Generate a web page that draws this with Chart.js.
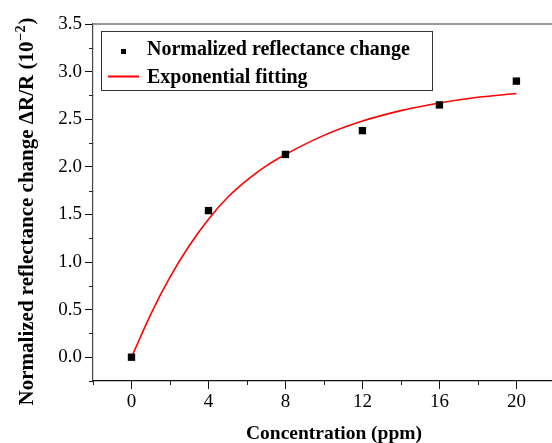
<!DOCTYPE html>
<html>
<head>
<meta charset="utf-8">
<script src="https://cdn.jsdelivr.net/npm/chart.js@4"></script>
<style>
  html, body { margin: 0; padding: 0; background: #fff; }
  canvas { display: block; }
</style>
</head>
<body>
<canvas id="myChart" width="552" height="443"></canvas>
<script>
// measured points
const concentration = [0, 4, 8, 12, 16, 20];
const reflectanceChange = [0.00, 1.54, 2.13, 2.38, 2.65, 2.90];

// fitted curve
const fitX = [0, 1, 2, 3, 4, 5, 6, 7, 8, 10, 12, 14, 16, 18, 20];
const fitY = [0, 0.45, 0.84, 1.17, 1.45, 1.68, 1.86, 2.01, 2.13, 2.33, 2.48, 2.59, 2.67, 2.73, 2.77];

const xTicks = [0, 4, 8, 12, 16, 20];
const yTicks = [0, 0.5, 1, 1.5, 2, 2.5, 3, 3.5];

const seriesLabels = ['Normalized reflectance change', 'Exponential fitting'];
const xTitle = 'Concentration (ppm)';
const yTitleMain = 'Normalized reflectance change \u0394R/R (10';
const yTitleSup = '\u22122';
const yTitleEnd = ')';

const serif = "'Liberation Serif', 'Times New Roman', serif";

// midpoints between major ticks -> minor ticks
function minorValues(scale, majors) {
  const step = (majors[1] - majors[0]) / 2;
  const vals = [];
  for (let v = majors[0] - step; v >= scale.min - 1e-6; v -= 2 * step) vals.push(v);
  for (let v = majors[0] + step; v <= scale.max + 1e-6; v += 2 * step) vals.push(v);
  return vals;
}

/* extras : frame top, minor ticks, titles, legend */
const decor = {
  id: 'decor',
  afterDraw(chart) {
    const { ctx, chartArea: a, scales: { x, y } } = chart;
    ctx.save();

    // top frame line
    ctx.strokeStyle = '#777';
    ctx.lineWidth = 1.5;
    ctx.beginPath();
    ctx.moveTo(a.left, a.top);
    ctx.lineTo(a.right, a.top);
    ctx.stroke();

    // x axis runs a little past the y axis
    ctx.strokeStyle = '#111';
    ctx.lineWidth = 1.2;
    ctx.beginPath();
    ctx.moveTo(a.left - 3, a.bottom + 0.5);
    ctx.lineTo(a.left, a.bottom + 0.5);
    ctx.stroke();

    // minor ticks
    ctx.strokeStyle = '#222';
    ctx.lineWidth = 1;
    ctx.beginPath();
    minorValues(x, xTicks).forEach(v => {
      const px = Math.round(x.getPixelForValue(v)) + 0.5;
      ctx.moveTo(px, a.bottom);
      ctx.lineTo(px, a.bottom + 4);
    });
    minorValues(y, yTicks).forEach(v => {
      const py = Math.round(y.getPixelForValue(v)) + 0.5;
      ctx.moveTo(a.left - 4, py);
      ctx.lineTo(a.left, py);
    });
    ctx.stroke();

    // x title
    ctx.fillStyle = '#000';
    ctx.font = 'bold 19.5px ' + serif;
    ctx.textAlign = 'center';
    ctx.textBaseline = 'alphabetic';
    ctx.fillText(xTitle, 334, 439);

    // y title with superscript
    ctx.save();
    ctx.translate(33, 211.5);
    ctx.rotate(-Math.PI / 2);
    ctx.textAlign = 'left';
    ctx.font = 'bold 21px ' + serif;
    const wMain = ctx.measureText(yTitleMain).width;
    const wEnd = ctx.measureText(yTitleEnd).width;
    ctx.font = 'bold 14px ' + serif;
    const wSup = ctx.measureText(yTitleSup).width;
    let sx = -(wMain + wSup + wEnd + 2) / 2;
    ctx.font = 'bold 21px ' + serif;
    ctx.fillText(yTitleMain, sx, 0);
    sx += wMain + 1;
    ctx.font = 'bold 14px ' + serif;
    ctx.fillText(yTitleSup, sx, -8);
    sx += wSup + 1;
    ctx.font = 'bold 21px ' + serif;
    ctx.fillText(yTitleEnd, sx, 0);
    ctx.restore();

    // legend box
    ctx.strokeStyle = '#333';
    ctx.lineWidth = 1;
    ctx.strokeRect(101.5, 31.5, 331, 59);
    ctx.fillStyle = '#000';
    ctx.fillRect(121, 49, 5, 5);
    ctx.strokeStyle = '#ff0000';
    ctx.lineWidth = 2;
    ctx.beginPath();
    ctx.moveTo(108, 76.5);
    ctx.lineTo(139, 76.5);
    ctx.stroke();
    ctx.fillStyle = '#000';
    ctx.font = 'bold 20px ' + serif;
    ctx.textAlign = 'left';
    ctx.fillText(chart.data.datasets[0].label, 147, 55);
    ctx.fillText(chart.data.datasets[1].label, 147, 83);

    ctx.restore();
  }
};

const myChart = new Chart(document.getElementById('myChart'), {
  type: 'scatter',
  data: {
    datasets: [
      {
        label: seriesLabels[0],
        data: concentration.map((c, i) => ({ x: c, y: reflectanceChange[i] })),
        pointStyle: 'rect',
        pointRadius: 5.2,
        backgroundColor: '#000',
        borderColor: '#000',
        borderWidth: 0,
        showLine: false,
        order: 0
      },
      {
        label: seriesLabels[1],
        type: 'line',
        data: fitX.map((v, i) => ({ x: v, y: fitY[i] })),
        borderColor: '#ff0000',
        borderWidth: 1.6,
        pointRadius: 0,
        cubicInterpolationMode: 'monotone',
        fill: false,
        order: 1
      }
    ]
  },
  options: {
    responsive: false,
    animation: false,
    layout: { autoPadding: false, padding: { top: 24, left: 0, right: 0, bottom: 0 } },
    plugins: { legend: { display: false }, tooltip: { enabled: false } },
    scales: {
      x: {
        type: 'linear',
        min: -2,
        max: 21.85,
        afterBuildTicks: s => { s.ticks = xTicks.map(v => ({ value: v })); },
        afterFit: s => { s.height = 62; s.paddingLeft = 0; s.paddingRight = 0; },
        grid: { drawOnChartArea: false, tickLength: 8, color: '#111' },
        border: { color: '#111', width: 1.2 },
        ticks: { color: '#000', font: { family: serif, size: 19 }, padding: 2, maxRotation: 0 }
      },
      y: {
        type: 'linear',
        min: -0.25,
        max: 3.5,
        afterBuildTicks: s => { s.ticks = yTicks.map(v => ({ value: v })); },
        afterFit: s => { s.width = 93; s.paddingTop = 0; s.paddingBottom = 0; },
        grid: { drawOnChartArea: false, tickLength: 8, color: '#111' },
        border: { color: '#444', width: 1.2 },
        ticks: { color: '#000', font: { family: serif, size: 19 }, padding: 3, callback: v => v.toFixed(1) }
      }
    }
  },
  plugins: [decor]
});
</script>
</body>
</html>
